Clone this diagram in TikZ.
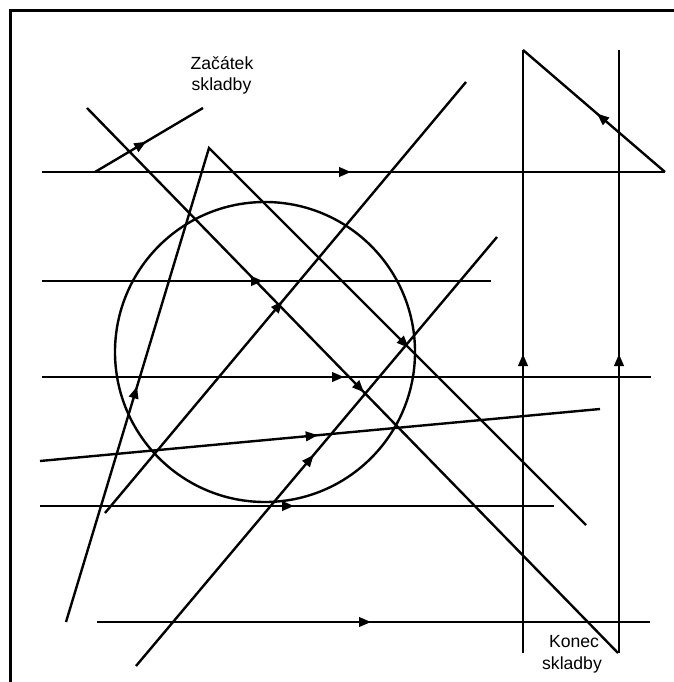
\documentclass[tikz,border=0pt]{standalone}
\usepackage{fontspec}
\setmainfont{Liberation Sans}
\usetikzlibrary{arrows.meta,decorations.markings}
\tikzset{
  ln/.style={line width=2.4pt, line join=miter},
  arrat/.style={postaction={decorate,decoration={markings,
      mark=at position #1 with {\arrow{Triangle[length=12pt,width=9.5pt]}}}}},
  lbl/.style={font=\fontsize{17.6}{20}\selectfont, anchor=base, inner sep=0pt}
}
\begin{document}
\begin{tikzpicture}[x=1pt,y=-1pt]
\useasboundingbox (0,0) rectangle (673,682);
% frame
\draw[line width=3pt] (10,700) -- (10,11) -- (690,11);
% coordinates
\coordinate (h1a) at (42,172);  \coordinate (h1b) at (665,172);
\coordinate (sa) at (95,172);   \coordinate (sb) at (203,108);
\coordinate (d1a) at (87,108);  \coordinate (d1b) at (618,653);
\coordinate (pk1) at (66,622);  \coordinate (pk2) at (209,148); \coordinate (pk3) at (586,525);
\coordinate (d2a) at (105,513); \coordinate (d2b) at (466,82);
\coordinate (d3a) at (136,666); \coordinate (d3b) at (497,237);
\coordinate (h2a) at (42,281);  \coordinate (h2b) at (491,281);
\coordinate (h3a) at (42,377);  \coordinate (h3b) at (651,377);
\coordinate (s2a) at (40,461);  \coordinate (s2b) at (600,409);
\coordinate (h4a) at (40,506);  \coordinate (h4b) at (554,506);
\coordinate (h5a) at (97,622);  \coordinate (h5b) at (650,622);
\coordinate (v1a) at (523,653); \coordinate (v1b) at (523,50);
\coordinate (v2a) at (619,653); \coordinate (v2b) at (619,50);
\coordinate (cc) at (265,352);
% circle
\draw[ln] (cc) circle[radius=150];
% lines
\draw[ln, arrat=309pt] (h1a) -- (h1b);
\draw[ln, arrat=59.5pt] (sa) -- (sb);
\draw[ln, arrat=397pt] (d1a) -- (d1b);
\draw[ln, arrat=246pt, arrat=777.5pt] (pk1) -- (pk2) -- (pk3);
\draw[ln, arrat=276.5pt] (d2a) -- (d2b);
\draw[ln, arrat=276pt] (d3a) -- (d3b);
\draw[ln, arrat=221pt] (h2a) -- (h2b);
\draw[ln, arrat=302pt] (h3a) -- (h3b);
\draw[ln, arrat=279pt] (s2a) -- (s2b);
\draw[ln, arrat=254pt] (h4a) -- (h4b);
\draw[ln, arrat=274pt] (h5a) -- (h5b);
\draw[ln, arrat=299pt] (v1a) -- (v1b);
\draw[ln, arrat=89.6pt] (h1b) -- (v1b);
\draw[ln, arrat=299pt] (v2a) -- (v2b);
% labels
\node[lbl] (zac1) at (222,70) {Začátek};
\node[lbl] (zac2) at (221.5,90.5) {skladby};
\node[lbl] (kon1) at (574,647.5) {Konec};
\node[lbl] (kon2) at (572,669.5) {skladby};
\end{tikzpicture}
\end{document}
